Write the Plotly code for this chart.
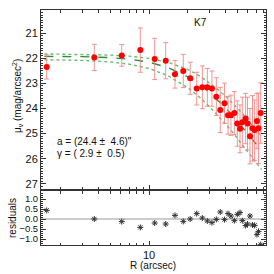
import plotly.graph_objects as go

# ---- data ----
radius = [1.565, 3.71, 6.10, 8.54, 11.09, 13.54, 16.02, 18.62, 21.1, 23.75,
          26.3, 28.8, 31.3, 33.9, 36.4, 39.3, 41.9, 44.2, 47.0, 49.6,
          52.1, 54.3, 57.7, 59.7, 62.4, 65.3, 67.9, 70.8, 72.8, 75.8]
mu = [22.35, 21.97, 21.89, 21.68, 22.03, 22.10, 22.64, 22.51, 22.80, 23.21,
      23.16, 23.16, 23.21, 23.53, 24.06, 23.79, 24.27, 24.27, 24.18, 24.60,
      24.81, 24.55, 24.40, 24.60, 25.10, 24.79, 24.86, 24.50, 24.79, 24.18]
mu_err = [0.48, 0.52, 0.43, 0.88, 0.82, 0.72, 0.55, 0.66, 0.64, 0.65,
          0.85, 0.75, 0.70, 0.75, 0.90, 0.80, 0.75, 0.80, 0.85, 0.90,
          0.95, 1.00, 1.00, 1.05, 1.10, 1.30, 1.20, 1.10, 1.40, 1.20]
residuals = [0.43, 0.00, -0.13, -0.42, -0.20, -0.25, 0.18, -0.12, 0.00, 0.27,
             0.05, -0.10, -0.18, -0.02, 0.35, -0.03, 0.27, 0.15, -0.08, 0.23,
             0.32, -0.08, -0.33, -0.25, 0.15, -0.30, -0.32, -0.78, -0.62, -1.28]

model_r = [1.5, 2, 3, 5, 7, 10, 14, 20, 25, 30, 35, 40, 45, 50, 55, 60, 65, 70, 77]
model_mu = [21.93, 21.93, 21.94, 21.98, 22.04, 22.16, 22.37, 22.73, 23.05, 23.37,
            23.68, 23.97, 24.25, 24.52, 24.76, 24.99, 25.21, 25.42, 25.69]
upper_mu = [21.83, 21.84, 21.85, 21.88, 21.92, 22.01, 22.16, 22.44, 22.70, 22.98,
            23.25, 23.51, 23.76, 24.00, 24.23, 24.45, 24.66, 24.85, 25.11]
lower_mu = [22.06, 22.07, 22.09, 22.15, 22.24, 22.41, 22.69, 23.16, 23.55, 23.93,
            24.28, 24.61, 24.91, 25.20, 25.46, 25.70, 25.93, 26.15, 26.43]

main_ticks = [21, 22, 23, 24, 25, 26, 27]
res_ticks = [1.0, 0.5, 0.0, -0.5, -1.0]
res_ticktext = ["1.0", "0.5", "0.0", "\u22120.5", "\u22121.0"]
x_major = [10]
x_major_text = ["10"]
x_minor = [2, 3, 4, 5, 6, 7, 8, 9, 20, 30, 40, 50, 60, 70, 80]

FONT = "Liberation Sans, Arial, sans-serif"
AX = "#333333"
L, R, T, B = 41, 8, 10, 29
W = H = 274
PW, PH = W - L - R, H - T - B


def px(xp):
    return (xp - L) / PW


def py(yp):
    return (H - B - yp) / PH


fig = go.Figure()

for ys in (upper_mu, lower_mu):
    fig.add_trace(go.Scatter(x=model_r, y=ys, mode="lines",
                             line=dict(color="rgb(110,185,110)", width=1.4, dash="dot"),
                             xaxis="x", yaxis="y", showlegend=False, hoverinfo="skip"))
fig.add_trace(go.Scatter(x=model_r, y=model_mu, mode="lines",
                         line=dict(color="rgb(50,140,60)", width=1.4, dash="dash"),
                         xaxis="x", yaxis="y", showlegend=False, hoverinfo="skip"))

fig.add_trace(go.Scatter(x=radius, y=mu, mode="markers",
                         marker=dict(color="#ff0000", size=6, symbol="circle",
                                     line=dict(width=0)),
                         error_y=dict(type="data", array=mu_err, color="rgba(240,130,130,0.85)",
                                      thickness=1, width=2.5),
                         xaxis="x", yaxis="y", showlegend=False))

fig.add_trace(go.Scatter(x=[1.41, 82], y=[0, 0], mode="lines",
                         line=dict(color="#999999", width=1),
                         xaxis="x2", yaxis="y2", showlegend=False, hoverinfo="skip"))
fig.add_trace(go.Scatter(x=radius, y=residuals, mode="markers",
                         marker=dict(symbol="asterisk-open", size=5, color="#333333",
                                     line=dict(width=1, color="#333333")),
                         xaxis="x2", yaxis="y2", showlegend=False))

xr = [0.1496, 1.9213]


def xaxis(anchor, labels):
    return dict(type="log", range=xr, autorange=False, anchor=anchor, automargin=False,
                showline=True, linecolor=AX, linewidth=1,
                mirror="allticks", ticks="inside", ticklen=4, tickcolor=AX,
                tickmode="array", tickvals=x_major, ticktext=x_major_text,
                showticklabels=labels, tickfont=dict(size=11),
                showgrid=False, zeroline=False,
                minor=dict(tickmode="array", tickvals=x_minor, ticks="inside",
                           ticklen=2.5, tickcolor=AX))


fig.update_layout(
    width=W, height=H,
    margin=dict(l=L, r=R, t=T, b=B, autoexpand=False),
    paper_bgcolor="white", plot_bgcolor="white",
    font=dict(family=FONT, size=11, color="#111111"),
    xaxis=xaxis("y", False),
    xaxis2=xaxis("y2", True),
    yaxis=dict(domain=[py(189), 1], range=[27.2, 20.086], autorange=False, anchor="x",
               automargin=False,
               tickvals=main_ticks, ticks="inside", ticklen=5, tickcolor=AX,
               showline=True, linecolor=AX, mirror="allticks", showgrid=False,
               zeroline=False, tickfont=dict(size=11),
               minor=dict(dtick=0.1, ticks="inside", ticklen=2, tickcolor=AX)),
    yaxis2=dict(domain=[0, py(191)], range=[-1.3, 1.4], autorange=False, anchor="x2",
                automargin=False,
                tickvals=res_ticks, ticktext=res_ticktext, ticks="inside", ticklen=5,
                tickcolor=AX, showline=True, linecolor=AX, mirror="allticks",
                showgrid=False, zeroline=False, tickfont=dict(size=9.5),
                minor=dict(dtick=0.1, ticks="inside", ticklen=2, tickcolor=AX)),
    annotations=[
        dict(text="K7", xref="paper", yref="paper", x=px(200), y=py(23),
             showarrow=False, font=dict(size=10), xanchor="center", yanchor="middle"),
        dict(text="a = (24.4 \u00b1  4.6)\"", xref="paper", yref="paper",
             x=px(55), y=py(141), showarrow=False,
             font=dict(size=10), xanchor="left", yanchor="middle"),
        dict(text="\u03b3 = ( 2.9 \u00b1  0.5)", xref="paper", yref="paper",
             x=px(55), y=py(153), showarrow=False,
             font=dict(size=10), xanchor="left", yanchor="middle"),
        dict(text="\u03bc<sub>\u03bd</sub> (mag/arcsec<sup>2</sup>)", xref="paper",
             yref="paper", x=px(17), y=py(96), textangle=-90, showarrow=False,
             font=dict(size=10), xanchor="center", yanchor="middle"),
        dict(text="residuals", xref="paper", yref="paper", x=px(12), y=py(218),
             textangle=-90, showarrow=False, font=dict(size=10),
             xanchor="center", yanchor="middle"),
        dict(text="R (arcsec)", xref="paper", yref="paper", x=px(153), y=py(265),
             showarrow=False, font=dict(size=10), xanchor="center", yanchor="middle"),
    ],
)

fig.write_html("out.html",
               config={"displayModeBar": False, "staticPlot": True},
               post_script="document.body.style.margin='0';"
                           "document.body.style.padding='0';")
